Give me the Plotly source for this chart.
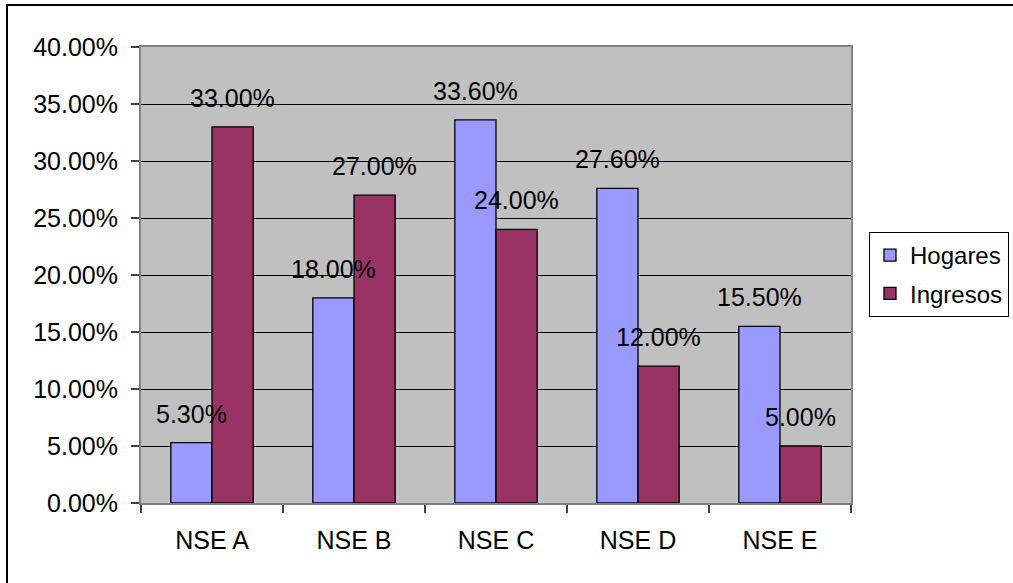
import plotly.graph_objects as go

categories = ["NSE A", "NSE B", "NSE C", "NSE D", "NSE E"]
hogares = [5.30, 18.00, 33.60, 27.60, 15.50]
ingresos = [33.00, 27.00, 24.00, 12.00, 5.00]
series_names = ["Hogares", "Ingresos"]
series_colors = ["#9999FF", "#993366"]
y_ticks = [0, 5, 10, 15, 20, 25, 30, 35, 40]
y_tick_text = [f"{v:.2f}%" for v in y_ticks]

FONT = "Liberation Sans, Arial, sans-serif"
W, H = 1013, 583
L, R, T, B = 141, 162, 47, 80
PW, PH = W - L - R, H - T - B

fig = go.Figure()
for name, vals, col, grp in zip(series_names, [hogares, ingresos], series_colors, ["g1", "g2"]):
    fig.add_trace(go.Bar(
        x=categories, y=vals, name=name, legendgroup=grp,
        marker=dict(color=col, line=dict(color="black", width=1.3)),
    ))

annotations = []
for k, vals in enumerate([hogares, ingresos]):
    shift = -20.5 if k == 0 else 20.5
    for c, v in zip(categories, vals):
        annotations.append(dict(
            x=c, y=v, xref="x", yref="y", text=f"{v:.2f}%", showarrow=False,
            xshift=shift, yshift=29, yanchor="middle",
            font=dict(family=FONT, size=25, color="black"),
        ))

def px_x(p):
    return (p - L) / PW

def px_y(p):
    return (H - B - p) / PH

fig.update_layout(
    width=W, height=H,
    margin=dict(l=L, r=R, t=T, b=B, pad=0),
    paper_bgcolor="white", plot_bgcolor="#C0C0C0",
    barmode="group", bargap=0.42, bargroupgap=0,
    font=dict(family=FONT, size=25, color="black"),
    annotations=annotations,
    legend=dict(
        xref="container", yref="container",
        x=869 / W, y=1 - 232 / H, xanchor="left", yanchor="top",
        bgcolor="white", bordercolor="black", borderwidth=1,
        font=dict(family=FONT, size=24, color="black"),
        tracegroupgap=4, traceorder="grouped",
    ),
    shapes=[dict(type="rect", xref="paper", yref="paper",
                 x0=px_x(7), x1=px_x(1060), y0=px_y(620), y1=px_y(5),
                 line=dict(color="black", width=2), fillcolor="rgba(0,0,0,0)", layer="below")],
    xaxis=dict(
        type="category", tickson="boundaries", ticks="outside", ticklen=8,
        tickcolor="#404040", tickwidth=1.5, showgrid=False,
        showline=True, linecolor="#808080", linewidth=2, mirror=True,
        ticklabelstandoff=14,
        tickfont=dict(family=FONT, size=25, color="black"),
    ),
    yaxis=dict(
        range=[0, 40], tickmode="array", tickvals=y_ticks, ticktext=y_tick_text,
        ticks="outside", ticklen=8, tickcolor="#404040", tickwidth=1.5,
        showgrid=True, gridcolor="#000000", gridwidth=1,
        showline=True, linecolor="#808080", linewidth=2, mirror=True,
        zeroline=False, ticklabelstandoff=8,
        tickfont=dict(family=FONT, size=25, color="black"),
    ),
)

fig.write_html("out.html")
